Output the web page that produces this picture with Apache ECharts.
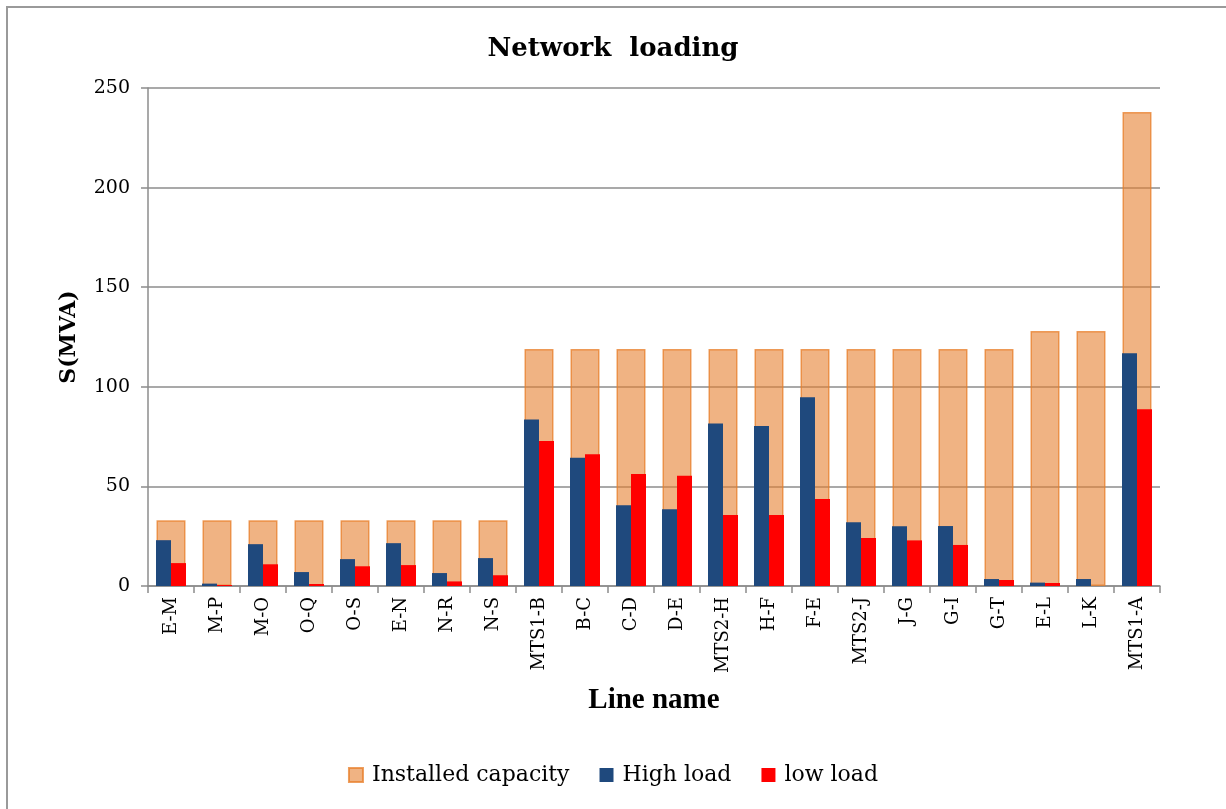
<!DOCTYPE html>
<html>
<head>
<meta charset="utf-8">
<title>Network loading</title>
<script src="https://cdn.jsdelivr.net/npm/echarts@6/dist/echarts.min.js"></script>
<style>
  html, body { margin: 0; padding: 0; background: #fff; }
  #chart { width: 1226px; height: 809px; }
</style>
</head>
<body>
<div id="chart"></div>
<script>
// line names along the x axis
const lineNames = ['E-M', 'M-P', 'M-O', 'O-Q', 'O-S', 'E-N', 'N-R', 'N-S', 'MTS1-B', 'B-C', 'C-D',
  'D-E', 'MTS2-H', 'H-F', 'F-E', 'MTS2-J', 'J-G', 'G-I', 'G-T', 'E-L', 'L-K', 'MTS1-A'];

// S (MVA)
const installedCapacity = [33, 33, 33, 33, 33, 33, 33, 33, 119, 119, 119,
  119, 119, 119, 119, 119, 119, 119, 119, 128, 128, 238];
const highLoad = [23, 1.2, 21, 7, 13.5, 21.5, 6.5, 14, 83.6, 64.4, 40.5,
  38.5, 81.6, 80.3, 94.8, 32, 30, 30.1, 3.5, 1.7, 3.5, 116.9];
const lowLoad = [11.5, 0.5, 10.9, 1, 9.9, 10.5, 2.3, 5.4, 72.8, 66.2, 56.2,
  55.3, 35.6, 35.6, 43.7, 24.1, 22.9, 20.6, 3, 1.5, 0, 88.7];

const yTicks = { min: 0, max: 250, interval: 50 };

const serif = 'DejaVu Serif';
const gridGray = '#8c8c8c';

let chart = echarts.init(document.getElementById('chart'));

let option = {
  animation: false,
  backgroundColor: '#fff',
  // outer frame of the picture
  graphic: [{
    type: 'rect',
    shape: { x: 7, y: 7, width: 1300, height: 900 },
    style: { fill: 'none', stroke: '#9a9a9a', lineWidth: 2 },
    silent: true
  }],
  title: {
    text: 'Network  loading',
    left: 'center',
    top: 31,
    textStyle: { fontFamily: serif, fontWeight: 'bold', fontSize: 26, color: '#000' }
  },
  legend: {
    bottom: 18,
    left: 'center',
    itemWidth: 14,
    itemHeight: 14,
    itemGap: 30,
    icon: 'rect',
    textStyle: { fontFamily: serif, fontSize: 22, color: '#000', padding: [0, 0, 0, 4] },
    data: ['Installed capacity', 'High load', 'low load']
  },
  grid: { left: 148, right: 66, top: 88, bottom: 223 },
  xAxis: [{
    type: 'category',
    data: lineNames,
    name: 'Line name',
    nameLocation: 'middle',
    nameGap: 100,
    nameTextStyle: { fontFamily: 'Liberation Serif', fontWeight: 'bold', fontSize: 29, color: '#000' },
    axisLine: { lineStyle: { color: gridGray, width: 1.5 } },
    axisTick: { show: true, length: 7, lineStyle: { color: gridGray, width: 1.5 } },
    axisLabel: { rotate: 90, interval: 0, margin: 11, fontFamily: serif, fontSize: 18, color: '#000' }
  }, {
    // hidden axis so the capacity bars sit behind the load bars
    type: 'category',
    data: lineNames,
    show: false
  }],
  yAxis: {
    type: 'value',
    min: yTicks.min,
    max: yTicks.max,
    interval: yTicks.interval,
    name: 'S(MVA)',
    nameLocation: 'middle',
    nameRotate: 90,
    nameGap: 68,
    nameTextStyle: { fontFamily: serif, fontWeight: 'bold', fontSize: 22, color: '#000' },
    axisLine: { show: true, lineStyle: { color: gridGray, width: 1.5 } },
    axisTick: { show: true, length: 7, lineStyle: { color: gridGray, width: 1.5 } },
    axisLabel: { margin: 18, fontFamily: serif, fontSize: 19, color: '#000' },
    splitLine: { show: true, lineStyle: { color: gridGray, width: 1.5 } }
  },
  series: [
    {
      name: 'Installed capacity',
      type: 'bar',
      xAxisIndex: 1,
      barWidth: 29,
      data: installedCapacity,
      itemStyle: {
        color: 'rgba(230,128,48,0.6)',
        borderColor: 'rgba(232,126,40,0.75)',
        borderWidth: 1.5
      }
    },
    {
      name: 'High load',
      type: 'bar',
      xAxisIndex: 0,
      barWidth: 15,
      barGap: '0%',
      data: highLoad,
      itemStyle: { color: '#1f497d' }
    },
    {
      name: 'low load',
      type: 'bar',
      xAxisIndex: 0,
      barWidth: 15,
      barGap: '0%',
      data: lowLoad,
      itemStyle: { color: '#ff0000' }
    }
  ]
};

chart.setOption(option);
</script>
</body>
</html>
